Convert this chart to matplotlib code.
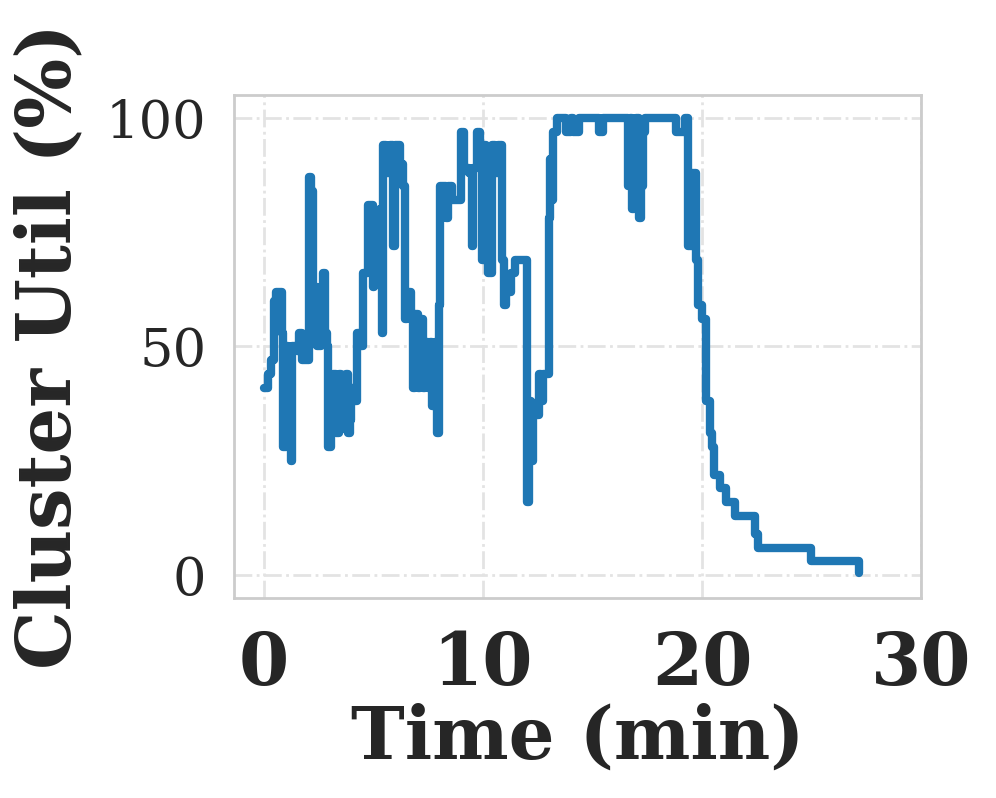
import numpy as np
import matplotlib
matplotlib.use("Agg")
import matplotlib.pyplot as plt
import seaborn as sns

# time (min) and cluster utilisation (%), step-post
t = [0.0, 0.2, 0.35, 0.45, 0.55, 0.85, 0.9, 1.0, 1.1, 1.15, 1.25, 1.3, 1.5, 1.6,
     1.75, 2.05, 2.15, 2.25, 2.35, 2.45, 2.6, 2.7, 2.8, 2.9, 2.95, 3.05, 3.15,
     3.3, 3.45, 3.55, 3.65, 3.75, 3.85, 3.95, 4.0, 4.1, 4.25, 4.45, 4.55, 4.75,
     5.0, 5.05, 5.3, 5.4, 5.45, 5.6, 5.75, 5.9, 6.0, 6.2, 6.35, 6.45, 6.55,
     6.7, 6.8, 6.9, 7.05, 7.15, 7.25, 7.35, 7.5, 7.6, 7.7, 7.8, 7.9, 8.0, 8.05,
     8.3, 8.4, 8.6, 9.0, 9.15, 9.35, 9.5, 9.55, 9.75, 9.85, 9.95, 10.05, 10.15,
     10.25, 10.4, 10.55, 10.7, 10.85, 10.95, 11.05, 11.2, 11.3, 11.45, 12.0,
     12.1, 12.2, 12.3, 12.45, 12.55, 12.65, 12.75, 13.0, 13.05, 13.15, 13.2,
     13.4, 13.8, 14.0, 14.1, 14.4, 15.3, 15.5, 16.6, 16.7, 16.8, 16.9, 17.0,
     17.1, 17.2, 17.3, 17.4, 18.8, 19.2, 19.35, 19.55, 19.7, 19.8, 20.0, 20.2,
     20.35, 20.45, 20.55, 20.8, 21.1, 21.5, 22.4, 22.55, 24.95, 27.15]
util = [41, 44, 47, 60, 62, 53, 28, 50, 30, 48, 25, 50, 49, 53,
        47, 87, 84, 58, 63, 50, 55, 66, 53, 50, 28, 33, 44,
        31, 44, 35, 32, 44, 31, 34, 41, 38, 53, 50, 66, 81,
        63, 78, 80, 53, 94, 88, 94, 72, 94, 90, 85, 56, 62,
        57, 41, 57, 41, 56, 41, 51, 41, 51, 37, 51, 31, 59, 85,
        78, 85, 82, 97, 89, 88, 72, 89, 97, 94, 69, 94, 70,
        66, 94, 88, 94, 69, 59, 65, 62, 66, 69, 16,
        38, 25, 37, 35, 44, 38, 44, 78, 91, 82, 97,
        100, 97, 100, 97, 100, 97, 100, 85, 100, 80, 97, 100,
        78, 85, 97, 100, 97, 100, 72, 88, 69, 59, 56, 38,
        31, 28, 22, 19, 16, 13, 9, 6, 3, 0.5]

sns.set_theme(style="whitegrid")
plt.rcParams['font.family'] = ['DejaVu Serif']

fig = plt.figure(figsize=(4.98, 3.99), dpi=200)
ax = fig.add_axes([0.235, 0.2506, 0.69, 0.6304])

ax.plot(t, util, drawstyle="steps-post", color="#1f77b4", linewidth=3,
        solid_capstyle="round", solid_joinstyle="round")

ax.set_xlim(-1.35, 30)
ax.set_ylim(-5, 105)
ax.set_xticks([0, 10, 20, 30])
ax.set_yticks([0, 50, 100])

ax.grid(True, linestyle="-.", color="#e3e3e3", linewidth=1.0)
for s in ax.spines.values():
    s.set_color("#cccccc")
    s.set_linewidth(1.0)

ax.tick_params(axis="y", labelsize=19, colors="#262626", pad=4)
ax.tick_params(axis="x", labelsize=26, colors="#262626", pad=5)
for lab in ax.get_xticklabels():
    lab.set_fontweight("bold")

ax.set_xlabel("Time (min)", fontsize=26, fontweight="bold", color="#262626", labelpad=1)
ax.set_ylabel("Cluster Util (%)", fontsize=26.5, fontweight="bold", color="#262626", labelpad=7)

fig.savefig("out.png", dpi=200)
